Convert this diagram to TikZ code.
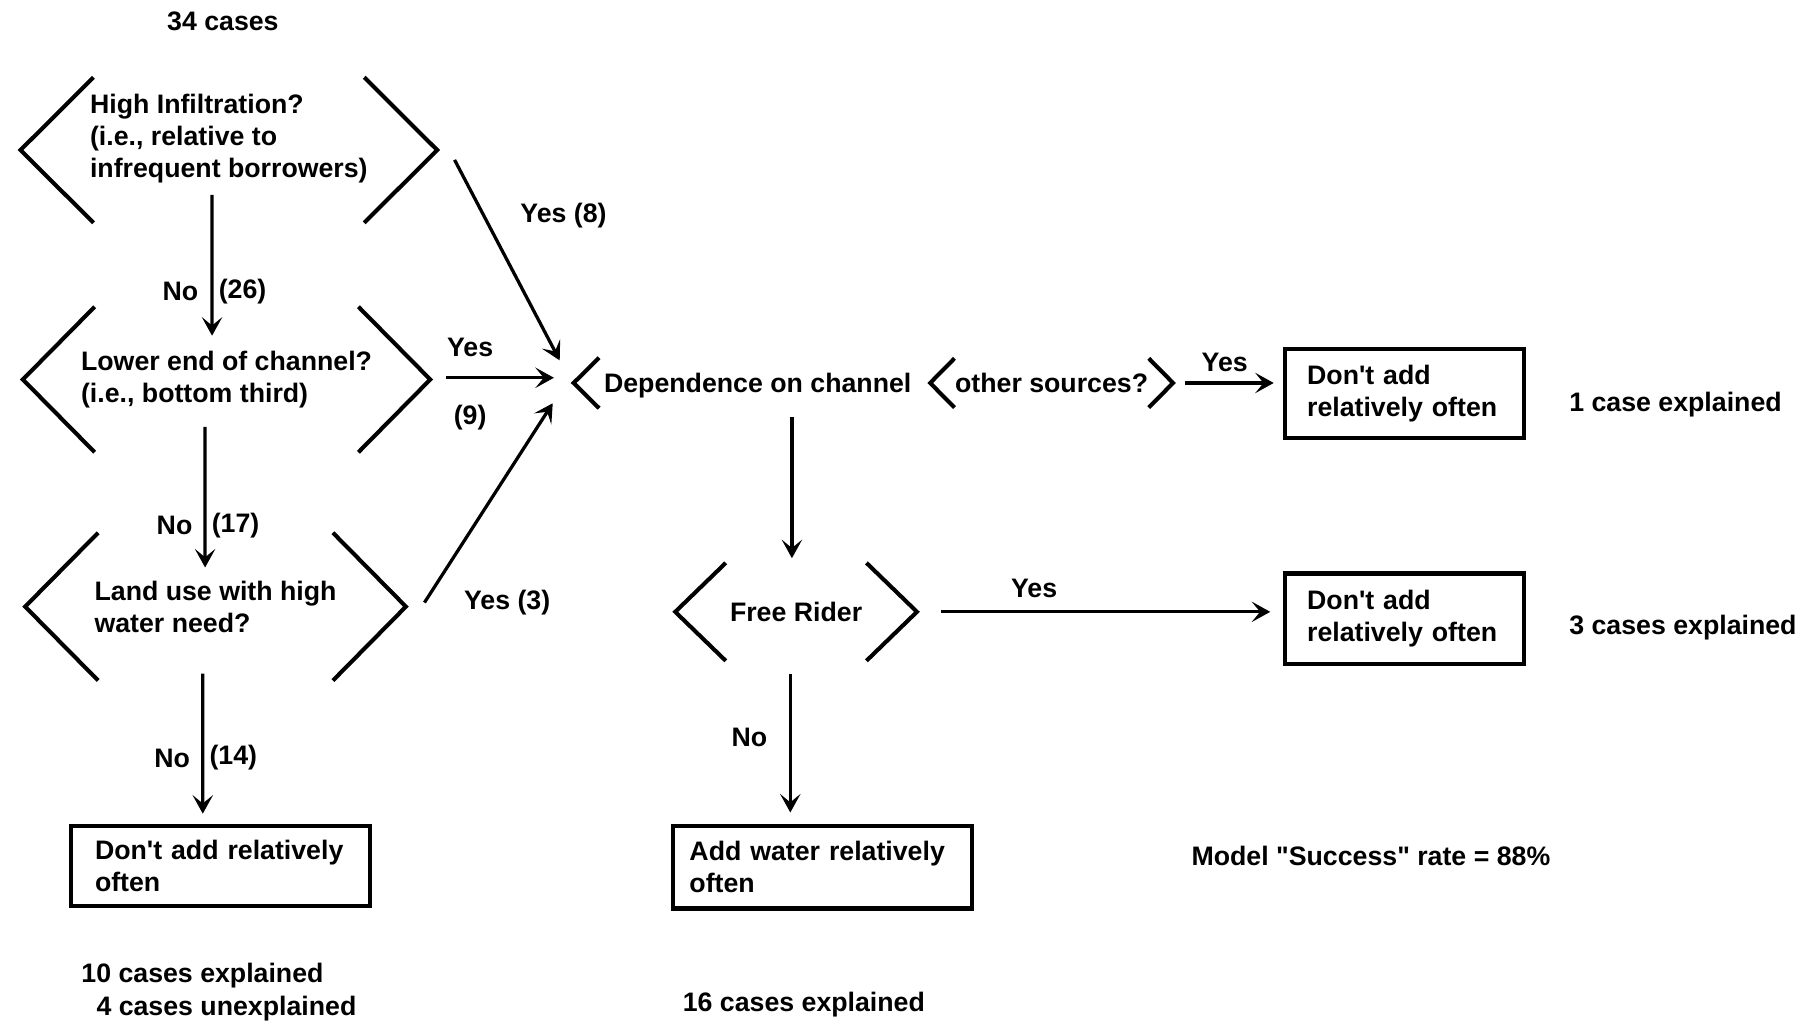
\documentclass[tikz,border=0pt]{standalone}
\usepackage{fontspec}
\setmainfont{Liberation Sans}[Ligatures=TeXOff]
\usetikzlibrary{arrows.meta}
% bracket pair round a question node
\newcommand\qbrackets[2]{%
  \draw[brk] ([xshift=#2]#1.north west) -- (#1.west) -- ([xshift=#2]#1.south west);
  \draw[brk] ([xshift=-#2]#1.north east) -- (#1.east) -- ([xshift=-#2]#1.south east);}
\newcommand\qleft[2]{%
  \draw[brk] ([xshift=#2]#1.north west) -- (#1.west) -- ([xshift=#2]#1.south west);}
\tikzset{
  >={Stealth[length=4mm,width=4.4mm,inset=1.8mm]},
  qframe/.style={inner sep=0pt,align=left},
  brk/.style={line width=2.5pt},
  flow/.style={->,line width=2pt},
  box/.style={draw,line width=2.6pt,align=left},
  note/.style={inner sep=0pt,anchor=west},
  lbl/.style={inner sep=0.5mm},
}
\begin{document}
\begin{tikzpicture}[x=0.25mm,y=-0.25mm,font=\fontsize{16.4}{19.6}\selectfont\bfseries]
  \useasboundingbox (0,0) rectangle (1568,883);
  % questions
  \node[qframe,minimum width=89.75mm,minimum height=31.25mm] (q1) at (197.5,129.5)
    {High Infiltration?\\(i.e., relative to\\infrequent borrowers)\rule[-6.2mm]{0pt}{0pt}};
  \node[qframe,minimum width=87.75mm,minimum height=31.25mm] (q2) at (195.5,327.5)
    {Lower end of channel?\\(i.e., bottom third)};
  \node[qframe,minimum width=82mm,minimum height=31.75mm] (q3) at (186,523.5)
    {Land use with high\\water need?};
  \qbrackets{q1}{15.75mm}
  \qbrackets{q2}{15.5mm}
  \qbrackets{q3}{15.75mm}
  % middle column
  \node[qframe,anchor=west,inner xsep=6.5mm,minimum height=10.75mm,text depth=0pt] (dep) at (495,330.5) {Dependence on channel};
  \qleft{dep}{5.5mm}
  \node[qframe,minimum width=52.25mm,minimum height=10.5mm] (src) at (907.5,330.5) {other sources?};
  \qbrackets{src}{5.25mm}
  \node[qframe,minimum width=52mm,minimum height=21mm] (fr) at (687,528) {Free Rider};
  \qbrackets{fr}{10.9mm}
  % outcomes
  \node[box,text width=54mm,inner xsep=5.25mm,minimum height=17.25mm] (dont3) at (190,747.5) {Don't add relatively\\often};
  \node[box,text width=57.5mm,inner xsep=3.5mm,minimum height=17.75mm] (add) at (710,748.5) {Add water relatively\\often};
  \node[box,text width=42mm,inner xsep=4.75mm,minimum height=19.25mm] (dont1) at (1212,339.5) {Don't add\\relatively often};
  \node[box,text width=42mm,inner xsep=4.75mm,minimum height=19.5mm] (dont2) at (1212,534) {Don't add\\relatively often};
  % counts
  \node[note] (n34) at (144,18) {34 cases};
  \node[note] (c1) at (1354,349.5) {1 case explained};
  \node[note] (c3) at (1354,542) {3 cases explained};
  \node[note] (c10) at (70,842) {10 cases explained};
  \node[note] (c4) at (83,870) {4 cases unexplained};
  \node[note] (c16) at (589,867) {16 cases explained};
  \node[note] (rate) at (1028,739) {Model "Success" rate = 88\%};
  % connectors
  \draw[flow,shorten <=-6mm,shorten >=-6.25mm] ([xshift=-3.625mm]q1.south) -- ([xshift=-3.125mm]q2.north)
    node[lbl,pos=.82,left=2.15mm] {No} node[lbl,pos=.82,right=.6mm] {(26)};
  \draw[flow,shorten <=-5.5mm,shorten >=-7.5mm] ([xshift=-4.625mm]q2.south) -- ([xshift=-2.25mm]q3.north)
    node[lbl,pos=.91,left=1.9mm] {No} node[lbl,pos=.91,right=.6mm] {(17)};
  \draw[flow,shorten <=-1.5mm,shorten >=2.25mm] ([xshift=-2.75mm]q3.south) -- ([xshift=-3.75mm]dont3.north)
    node[lbl,pos=.54,left=1.9mm] {No} node[lbl,pos=.54,right=.6mm] {(14)};
  \draw[flow] ([shift={(15,8.5)}]q1.east) -- ([shift={(-12,-19.5)}]dep.west)
    node[lbl,pos=.28,right=7mm] {Yes (8)};
  \draw[flow] ([shift={(14,-1.5)}]q2.east) -- ([shift={(-17,-4.5)}]dep.west)
    node[lbl,pos=.22,above=3.75mm] {Yes} node[lbl,pos=.22,below=5mm] {(9)};
  \draw[flow] ([shift={(16,-3.5)}]q3.east) -- ([shift={(-18,17.5)}]dep.west)
    node[lbl,pos=0,right=7.7mm] {Yes (3)};
  \draw[flow,shorten <=2.5mm,shorten >=2mm] (src.east) -- (src.east -| dont1.west)
    node[lbl,pos=.47,above=1.5mm] {Yes};
  \draw[flow,shorten <=2mm,shorten >=1mm] ([xshift=-0.9mm]fr.north |- dep.south) -- ([xshift=-0.9mm]fr.north);
  \draw[flow,shorten <=5.25mm,shorten >=2.75mm] (fr.east) -- (fr.east -| dont2.west)
    node[lbl,pos=.32,above=2.25mm] {Yes};
  \draw[flow,shorten <=2.75mm,shorten >=2.5mm] ([xshift=-1.25mm]fr.south) -- ([xshift=-1.25mm]fr.south |- add.north)
    node[lbl,pos=.47,left=4.15mm] {No};
\end{tikzpicture}
\end{document}
